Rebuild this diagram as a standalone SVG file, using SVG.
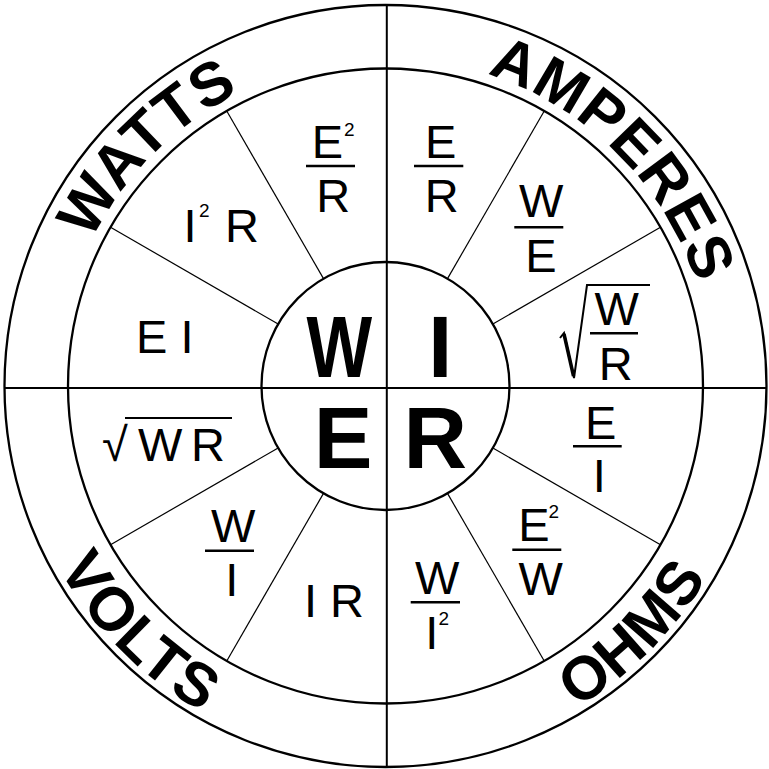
<svg xmlns="http://www.w3.org/2000/svg" width="769" height="769" viewBox="0 0 769 769">
<style>
.ring{fill:none;stroke:#000;stroke-width:2.3}
.axis{stroke:#000;stroke-width:2}
.spoke{stroke:#000;stroke-width:1.2}
.bar{stroke:#000;stroke-width:2.5}
.f{font-family:"Liberation Sans",Arial,sans-serif;font-size:47px;fill:#000;text-anchor:middle}
.s{font-family:"Liberation Sans",Arial,sans-serif;font-size:47px;fill:#000;text-anchor:start}
.sup{font-size:19px}
.big{font-family:"Liberation Sans",Arial,sans-serif;font-weight:bold;font-size:88px;fill:#000;text-anchor:middle}
.arc{font-family:"Liberation Sans",Arial,sans-serif;font-weight:bold;font-size:61px;fill:#000}
.rad{fill:none;stroke:#000;stroke-width:2;stroke-linejoin:miter}
</style>
<defs>
<path id="pWatts" d="M134.24,596.83 A328,328 0 0 1 596.33,134.74"/>
<path id="pAmperes" d="M174.67,134.74 A328,328 0 0 1 636.76,596.83"/>
<path id="pVolts" d="M99.00,145.60 A374,374 0 0 0 625.90,672.50"/>
<path id="pOhms" d="M145.10,672.50 A374,374 0 0 0 672.00,145.60"/>
</defs>
<rect width="769" height="769" fill="#fff"/>
<g id="rings">
<circle class="ring" cx="385.5" cy="386" r="381"/>
<circle class="ring" cx="385.5" cy="386" r="317.5"/>
<circle class="ring" cx="385.5" cy="386" r="124"/>
</g>
<g id="connectors">
<line class="axis" x1="386.8" y1="5" x2="386.8" y2="767"/>
<line class="axis" x1="4.5" y1="388" x2="766.5" y2="388"/>
<line class="spoke" x1="492.89" y1="448" x2="660.46" y2="544.75"/>
<line class="spoke" x1="447.5" y1="493.39" x2="544.25" y2="660.96"/>
<line class="spoke" x1="323.5" y1="493.39" x2="226.75" y2="660.96"/>
<line class="spoke" x1="278.11" y1="448" x2="110.54" y2="544.75"/>
<line class="spoke" x1="278.11" y1="324" x2="110.54" y2="227.25"/>
<line class="spoke" x1="323.5" y1="278.61" x2="226.75" y2="111.04"/>
<line class="spoke" x1="447.5" y1="278.61" x2="544.25" y2="111.04"/>
<line class="spoke" x1="492.89" y1="324" x2="660.46" y2="227.25"/>
</g>
<g id="label-watts"><text class="arc"><textPath href="#pWatts" startOffset="50%" text-anchor="middle" letter-spacing="1">WATTS</textPath></text></g>
<g id="label-amperes"><text class="arc"><textPath href="#pAmperes" startOffset="50%" text-anchor="middle" letter-spacing="1">AMPERES</textPath></text></g>
<g id="label-volts"><text class="arc"><textPath href="#pVolts" startOffset="50%" text-anchor="middle" letter-spacing="2">VOLTS</textPath></text></g>
<g id="label-ohms"><text class="arc"><textPath href="#pOhms" startOffset="50%" text-anchor="middle" letter-spacing="1">OHMS</textPath></text></g>
<g id="center-W"><text class="big" transform="translate(339.2,376.7) scale(0.79,1)">W</text></g>
<g id="center-I"><text class="big" x="440.3" y="376.7">I</text></g>
<g id="center-E"><text class="big" x="343" y="468.3">E</text></g>
<g id="center-R"><text class="big" x="435.3" y="468.3">R</text></g>
<g id="w-ei"><text class="s" x="136" y="353">E I</text></g>
<g id="w-i2r"><text class="s" y="241.7"><tspan x="183.5">I</tspan><tspan class="sup" x="199" y="217">2</tspan><tspan x="225" y="241.7">R</tspan></text></g>
<g id="w-e2r">
<text class="f" x="327.4" y="158.3">E</text><text class="s sup" x="344" y="135.5">2</text>
<line class="bar" x1="306" y1="166" x2="355" y2="166"/>
<text class="f" x="333.2" y="211.7">R</text>
</g>
<g id="a-er">
<text class="f" x="440.7" y="158.3">E</text>
<line class="bar" x1="414" y1="166" x2="463.3" y2="166"/>
<text class="f" x="441.7" y="211.7">R</text>
</g>
<g id="a-we">
<text class="f" x="541.3" y="216.7">W</text>
<line class="bar" x1="514.3" y1="227.3" x2="563.3" y2="227.3"/>
<text class="f" x="541" y="272">E</text>
</g>
<g id="a-sqrtwr">
<path class="rad" d="M560,338 L564,333 L574,378 L587,285 H650"/>
<line stroke="#000" stroke-width="3.5" x1="564" y1="334" x2="573.5" y2="376"/>
<text class="f" x="616.7" y="325">W</text>
<line class="bar" x1="590" y1="333.3" x2="638" y2="333.3"/>
<text class="f" x="615.8" y="379.5">R</text>
</g>
<g id="o-ei">
<text class="f" x="600.7" y="439">E</text>
<line class="bar" x1="573" y1="446.3" x2="621.7" y2="446.3"/>
<text class="f" x="599.3" y="492.3">I</text>
</g>
<g id="o-e2w">
<text class="f" x="534" y="540.7">E</text><text class="s sup" x="548.5" y="517.5">2</text>
<line class="bar" x1="512.3" y1="549.7" x2="561.3" y2="549.7"/>
<text class="f" x="540.7" y="594.7">W</text>
</g>
<g id="o-wi2">
<text class="f" x="437.3" y="594">W</text>
<line class="bar" x1="410.7" y1="602.3" x2="460" y2="602.3"/>
<text class="f" x="431.8" y="649">I</text><text class="s sup" x="438.5" y="624.5">2</text>
</g>
<g id="v-ir"><text class="s" x="304" y="617.3">I R</text></g>
<g id="v-wi">
<text class="f" x="233.3" y="542.3">W</text>
<line class="bar" x1="205" y1="550.7" x2="254" y2="550.7"/>
<text class="f" x="231.7" y="595.7">I</text>
</g>
<g id="v-sqrtwr">
<text class="s" x="102" y="461">√<tspan x="138">W</tspan><tspan x="191">R</tspan></text>
<line stroke="#000" stroke-width="2" x1="125" y1="418" x2="232" y2="418"/>
</g>
</svg>
